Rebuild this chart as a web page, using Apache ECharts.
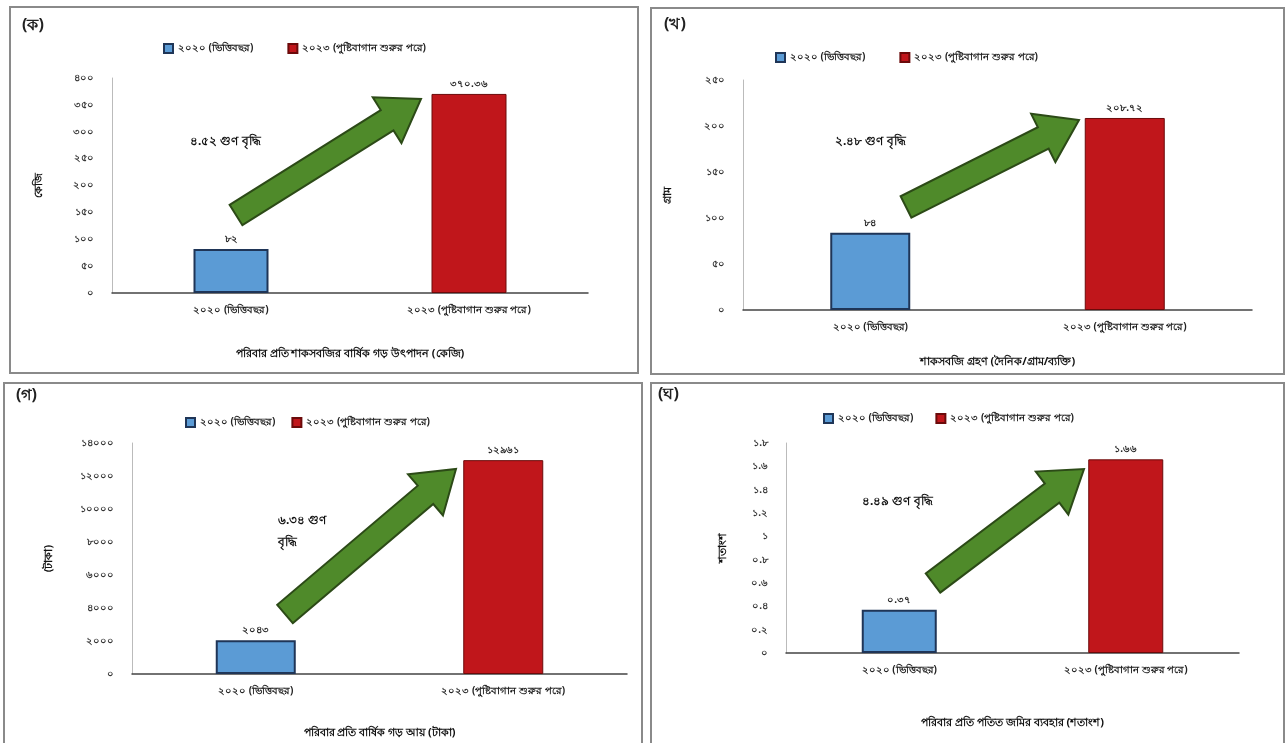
<!DOCTYPE html>
<html><head><meta charset="utf-8">
<script src="https://cdn.jsdelivr.net/npm/echarts@6/dist/echarts.min.js"></script>
<style>html,body{margin:0;padding:0;background:#fff}#c{width:1288px;height:743px}</style>
</head><body><div id="c"></div>
<script>
const categories = ['২০২০ (ভিত্তিবছর)', '২০২৩ (পুষ্টিবাগান শুরুর পরে)'];
const seriesNames = ['২০২০ (ভিত্তিবছর)', '২০২৩ (পুষ্টিবাগান শুরুর পরে)'];
const panelLabels = ['(ক)', '(খ)', '(গ)', '(ঘ)'];
const baseValues = [82, 84, 2043, 0.37];
const afterValues = [370.36, 208.72, 12961, 1.66];
const growthTexts = ['৪.৫২ গুণ বৃদ্ধি', '২.৪৮ গুণ বৃদ্ধি', '৬.৩৪ গুণ\nবৃদ্ধি', '৪.৪৯ গুণ বৃদ্ধি'];
const yMaxes = [400, 250, 14000, 1.8];
const yIntervals = [50, 50, 2000, 0.2];
const yNames = ['কেজি', 'গ্রাম', '(টাকা)', 'শতাংশ'];
const xNames = ['পরিবার প্রতি শাকসবজির বার্ষিক গড় উৎপাদন (কেজি)', 'শাকসবজি গ্রহণ (দৈনিক/গ্রাম/ব্যক্তি)', 'পরিবার প্রতি বার্ষিক গড় আয় (টাকা)', 'পরিবার প্রতি পতিত জমির ব্যবহার (শতাংশ)'];

const bnDigits = '০১২৩৪৫৬৭৮৯';
const toBn = s => String(s).replace(/\d/g, d => bnDigits[d]);
const FONT = 'Noto Sans, DejaVu Sans, sans-serif';

// layout (pixels)
const grids = [
  {left: 112, top: 78, width: 476, height: 215},
  {left: 743, top: 80, width: 509, height: 230},
  {left: 132, top: 443, width: 495, height: 231},
  {left: 786, top: 443, width: 453, height: 210}
];
const barWidths = [75, 80, 80, 75];
const yNameGaps = [68, 70, 78, 58];
const xNameGaps = [55, 46, 53, 64];
const legendPos = [{left: 158, top: 38}, {left: 770, top: 47}, {left: 180, top: 412}, {left: 818, top: 408}];
const legendGaps = [34, 34, 16, 22];
const labelPos = [[22, 17], [664, 16], [16, 387], [658, 386]];
const growthPos = [[190, 131], [835, 131], [278, 510], [862, 491]];
const arrows = [
  {tail: [236, 215], tip: [421, 99]},
  {tail: [906, 207], tip: [1079, 120]},
  {tail: [285, 614], tip: [456, 469]},
  {tail: [933, 583], tip: [1084, 469]}
];
const borders = [[10, 7, 628, 366], [651, 8, 633, 366], [4, 383, 638, 362], [651, 383, 633, 362]];

const blue = '#5B9BD5', blueB = '#1F3557', red = '#C0161B', redB = '#6B0A0A';

const option = {
  backgroundColor: '#fff',
  animation: false,
  textStyle: {fontFamily: FONT},
  grid: grids.map(g => Object.assign({containLabel: false}, g)),
  legend: legendPos.map((p, i) => ({
    left: p.left, top: p.top, itemGap: legendGaps[i], itemWidth: 9, itemHeight: 9, icon: 'rect',
    data: seriesNames,
    textStyle: {fontSize: 10, color: '#222', fontWeight: 'bold'}
  })),
  xAxis: grids.map((g, i) => ({
    type: 'category', gridIndex: i, data: categories,
    name: xNames[i], nameLocation: 'middle', nameGap: xNameGaps[i],
    nameTextStyle: {fontSize: 11, color: '#111', fontWeight: 'bold'},
    axisLine: {lineStyle: {color: '#444', width: 1.5}},
    axisTick: {show: false},
    axisLabel: {fontSize: 10, color: '#222', fontWeight: 'bold', margin: 12, interval: 0}
  })),
  yAxis: grids.map((g, i) => ({
    type: 'value', gridIndex: i, min: 0, max: yMaxes[i], interval: yIntervals[i],
    name: yNames[i], nameLocation: 'middle', nameGap: yNameGaps[i], nameRotate: 90,
    nameTextStyle: {fontSize: 11, color: '#111', fontWeight: 'bold'},
    axisLine: {show: true, lineStyle: {color: '#bbb', width: 1}},
    axisTick: {show: false},
    splitLine: {show: false},
    axisLabel: {fontSize: 10, color: '#333', fontWeight: 'bold', margin: 18,
      formatter: v => toBn(Math.round(v * 100) / 100)}
  })),
  series: []
};
for (let i = 0; i < 4; i++) {
  option.series.push({
    name: seriesNames[0], type: 'bar', xAxisIndex: i, yAxisIndex: i, stack: 'p' + i,
    barWidth: barWidths[i], data: [baseValues[i], '-'],
    itemStyle: {color: blue, borderColor: blueB, borderWidth: 2},
    label: {show: true, position: 'top', fontSize: 10, color: '#222', fontWeight: 'bold',
      formatter: p => toBn(p.value)}
  });
  option.series.push({
    name: seriesNames[1], type: 'bar', xAxisIndex: i, yAxisIndex: i, stack: 'p' + i,
    barWidth: barWidths[i], data: ['-', afterValues[i]],
    itemStyle: {color: red, borderColor: redB, borderWidth: 1},
    label: {show: true, position: 'top', fontSize: 10, color: '#222', fontWeight: 'bold',
      formatter: p => toBn(p.value)}
  });
}

function arrowPoints(tail, tip) {
  const dx = tip[0] - tail[0], dy = tip[1] - tail[1];
  const len = Math.hypot(dx, dy);
  const ux = dx / len, uy = dy / len, nx = -uy, ny = ux;
  const sw = 12, hw = 27, hl = 40;
  const bx = tip[0] - ux * hl, by = tip[1] - uy * hl;
  return [
    [tail[0] + nx * sw, tail[1] + ny * sw],
    [bx + nx * sw, by + ny * sw],
    [bx + nx * hw, by + ny * hw],
    [tip[0], tip[1]],
    [bx - nx * hw, by - ny * hw],
    [bx - nx * sw, by - ny * sw],
    [tail[0] - nx * sw, tail[1] - ny * sw]
  ];
}

const graphics = [];
borders.forEach(b => graphics.push({type: 'rect', shape: {x: b[0], y: b[1], width: b[2], height: b[3]},
  style: {fill: 'none', stroke: '#8a8a8a', lineWidth: 2}, z: 0}));
panelLabels.forEach((t, i) => graphics.push({type: 'text', x: labelPos[i][0], y: labelPos[i][1],
  style: {text: t, fontSize: 16, fontWeight: 'bold', fill: '#222', fontFamily: FONT}, z: 10}));
arrows.forEach(a => graphics.push({type: 'polygon', shape: {points: arrowPoints(a.tail, a.tip)},
  style: {fill: '#4F8A2A', stroke: '#2C4A17', lineWidth: 2}, z: 5}));
growthTexts.forEach((t, i) => graphics.push({type: 'text', x: growthPos[i][0], y: growthPos[i][1],
  style: {text: t, fontSize: 12, fontWeight: 'bold', fill: '#111', fontFamily: FONT, lineHeight: 22}, z: 10}));
option.graphic = graphics;

const chart = echarts.init(document.getElementById('c'));
chart.setOption(option);
</script></body></html>
